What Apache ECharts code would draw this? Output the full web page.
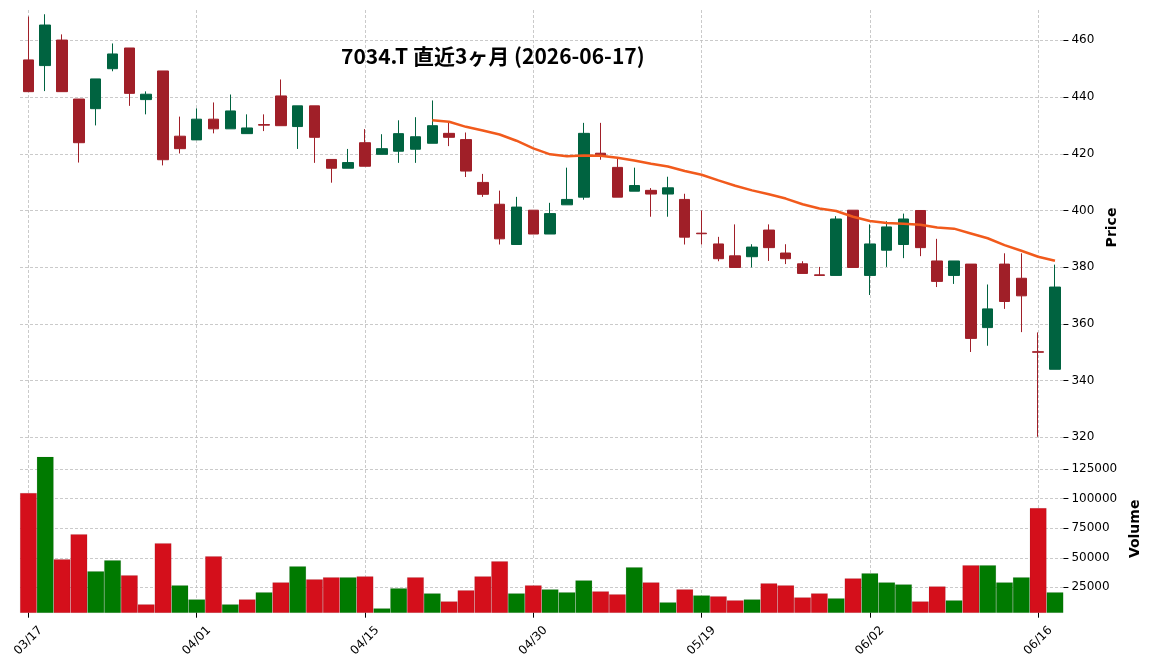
<!DOCTYPE html>
<html>
<head>
<meta charset="utf-8">
<title>7034.T</title>
<script src="https://cdn.jsdelivr.net/npm/echarts@6.0.0/dist/echarts.min.js"></script>
<style>
  html, body { margin: 0; padding: 0; background: #fff; }
  #chart { width: 1152px; height: 670px; }
</style>
</head>
<body>
<div id="chart"></div>
<script>
// 日付 (営業日)
var dates = [
  '03/17', '03/18', '03/19', '03/23', '03/24', '03/25', '03/26', '03/27', '03/30', '03/31',
  '04/01', '04/02', '04/03', '04/06', '04/07', '04/08', '04/09', '04/10', '04/13', '04/14',
  '04/15', '04/16', '04/17', '04/20', '04/21', '04/22', '04/23', '04/24', '04/27', '04/28',
  '04/30', '05/01', '05/07', '05/08', '05/11', '05/12', '05/13', '05/14', '05/15', '05/18',
  '05/19', '05/20', '05/21', '05/22', '05/25', '05/26', '05/27', '05/28', '05/29', '06/01',
  '06/02', '06/03', '06/04', '06/05', '06/08', '06/09', '06/10', '06/11', '06/12', '06/15',
  '06/16', '06/17'
]

var opens = [
  453.1, 451.1, 460.1, 439.3, 435.9, 450.0, 457.3, 439.1, 449.2, 426.2,
  424.9, 432.2, 428.8, 427.1, 430.3, 440.4, 429.6, 436.9, 418.0, 414.9,
  423.9, 419.8, 420.9, 421.6, 423.7, 427.2, 425.0, 409.9, 402.2, 388.0,
  400.1, 391.7, 402.0, 404.7, 420.2, 415.2, 406.8, 407.1, 405.8, 403.9,
  392.0, 388.2, 384.0, 383.7, 393.1, 385.0, 381.2, 377.3, 377.1, 400.1,
  377.1, 386.0, 388.0, 400.0, 382.2, 377.1, 381.1, 358.7, 381.1, 376.1,
  350.2, 344.0
]

var closes = [
  441.9, 465.4, 441.9, 423.9, 446.4, 455.2, 441.3, 441.0, 417.9, 421.8,
  432.2, 428.8, 435.1, 429.1, 430.1, 429.9, 436.9, 425.8, 414.9, 416.9,
  415.6, 421.8, 427.1, 426.0, 429.9, 425.8, 413.9, 405.7, 390.0, 401.2,
  391.7, 398.9, 403.9, 427.2, 419.3, 404.7, 408.8, 405.8, 408.0, 390.6,
  391.8, 383.0, 379.9, 387.1, 386.9, 383.0, 377.8, 377.1, 397.0, 379.9,
  388.2, 394.2, 397.0, 386.9, 375.0, 382.2, 354.9, 365.3, 367.9, 369.9,
  350.0, 373.0
]

var lows = [
  441.9, 442.1, 441.9, 416.9, 430.0, 449.1, 436.9, 433.9, 415.9, 420.1,
  424.9, 427.2, 428.8, 427.1, 428.0, 429.9, 421.7, 416.8, 409.8, 414.9,
  415.6, 419.8, 416.8, 416.8, 423.7, 422.7, 411.8, 404.8, 388.0, 388.0,
  391.7, 391.7, 402.0, 403.8, 417.9, 404.7, 406.8, 397.8, 397.8, 388.0,
  388.0, 382.1, 379.9, 379.9, 382.2, 381.1, 377.8, 377.1, 377.1, 379.9,
  370.2, 380.1, 383.2, 383.9, 373.0, 374.1, 350.1, 352.3, 365.3, 357.1,
  320.2, 344.0
]

var highs = [
  468.4, 469.2, 462.1, 439.3, 446.4, 458.9, 457.3, 442.0, 449.2, 433.1,
  436.0, 438.1, 440.9, 433.9, 433.9, 446.2, 436.9, 436.9, 418.0, 421.7,
  428.7, 426.9, 431.8, 432.9, 438.8, 431.0, 427.5, 412.9, 407.0, 404.8,
  400.1, 402.7, 415.1, 430.9, 430.9, 418.8, 415.1, 407.9, 411.9, 405.9,
  400.0, 390.7, 395.1, 388.1, 395.1, 388.1, 382.1, 380.1, 398.0, 400.1,
  395.1, 396.2, 398.9, 400.0, 390.0, 382.2, 381.1, 373.9, 384.9, 384.9,
  357.0, 380.9
]

var volumes = [
  104900, 135500, 48800, 70000, 38600, 47900, 35200, 10600, 62400, 26700,
  14800, 51300, 10600, 14800, 20800, 29200, 42800, 31800, 33500, 33500,
  34300, 7200, 24200, 33500, 19900, 13100, 22500, 34300, 47100, 19900,
  26700, 23300, 20800, 30900, 21600, 19100, 42000, 29200, 12300, 23300,
  18200, 17400, 14000, 14800, 28400, 26700, 16500, 19900, 15700, 32600,
  36900, 29200, 27500, 13100, 25800, 14000, 43700, 43700, 29200, 33500,
  92100, 20800
]

// 25日移動平均 (チャートから読み取り)
var ma25 = [
  null, null, null, null, null, null, null, null, null, null,
  null, null, null, null, null, null, null, null, null, null,
  null, null, null, null, 431.8, 431.3, 429.5, 428.2, 426.8, 424.6,
  421.9, 419.8, 419.1, 419.4, 419.3, 418.6, 417.6, 416.5, 415.5, 413.9,
  412.6, 410.6, 408.7, 407.1, 405.7, 404.2, 402.2, 400.7, 399.8, 397.8,
  396.3, 395.6, 395.3, 395.0, 394.0, 393.6, 391.9, 390.2, 387.8, 385.8,
  383.7, 382.3
]

var priceTicks = [320, 340, 360, 380, 400, 420, 440, 460]
var volumeTicks = [25000, 50000, 75000, 100000, 125000]

var upColor = '#006340'
var downColor = '#a01f28'
var volUp = '#007a00'
var volDown = '#d40f1b'
var gridLine = { color: '#bdbdbd', width: 0.8, type: [3, 2] }
var font = 'DejaVu Sans'

function everyTen (i) {
  return i % 10 === 0
}

var candles = dates.map(function (d, i) {
  return [opens[i], closes[i], lows[i], highs[i]]
})

// 出来高の色は前日終値との比較
var volumeData = volumes.map(function (v, i) {
  var up = i === 0 ? closes[i] >= opens[i] : closes[i] >= closes[i - 1]
  return { value: v, itemStyle: { color: up ? volUp : volDown } }
})

var myChart = echarts.init(document.getElementById('chart'), null, { renderer: 'canvas' })
myChart.setOption({
  animation: false,
  backgroundColor: '#fff',
  title: {
    text: '7034.T 直近3ヶ月 (2026-06-17)',
    left: 336,
    top: 41,
    textStyle: {
      fontFamily: 'Noto Sans CJK JP',
      fontWeight: 'bold',
      fontSize: 21,
      color: '#000'
    }
  },
  grid: [
    { left: 20, width: 1043.4, top: 10, height: 435 },
    { left: 20, width: 1043.4, top: 445, height: 167.7 }
  ],
  xAxis: [
    {
      type: 'category',
      gridIndex: 0,
      data: dates,
      boundaryGap: true,
      axisLine: { show: false },
      axisTick: { show: false },
      axisLabel: { show: false },
      splitLine: { show: true, interval: everyTen, alignWithLabel: true, lineStyle: gridLine }
    },
    {
      type: 'category',
      gridIndex: 1,
      data: dates,
      boundaryGap: true,
      axisLine: { show: false },
      axisTick: { show: true, interval: everyTen, alignWithLabel: true, length: 5, lineStyle: { color: '#000', width: 1 } },
      axisLabel: {
        interval: everyTen,
        rotate: 45,
        align: 'center',
        verticalAlign: 'middle',
        margin: 28,
        fontFamily: font,
        fontSize: 12,
        color: '#000'
      },
      splitLine: { show: true, interval: everyTen, alignWithLabel: true, lineStyle: gridLine }
    }
  ],
  yAxis: [
    {
      type: 'value',
      gridIndex: 0,
      position: 'right',
      min: 317.3,
      max: 470.7,
      name: 'Price',
      nameLocation: 'middle',
      nameRotate: 90,
      nameGap: 40,
      nameTextStyle: { fontFamily: font, fontWeight: 'bold', fontSize: 14, color: '#000' },
      axisLine: { show: false },
      axisTick: { show: true, customValues: priceTicks, length: 5, lineStyle: { color: '#000' } },
      axisLabel: { customValues: priceTicks, margin: 8, fontFamily: font, fontSize: 12, color: '#000' },
      splitLine: { show: true, lineStyle: gridLine }
    },
    {
      type: 'value',
      gridIndex: 1,
      position: 'right',
      min: 3500,
      max: 145500,
      name: 'Volume',
      nameLocation: 'middle',
      nameRotate: 90,
      nameGap: 56,
      nameTextStyle: { fontFamily: font, fontWeight: 'bold', fontSize: 14, color: '#000' },
      axisLine: { show: false },
      axisTick: { show: true, customValues: volumeTicks, length: 5, lineStyle: { color: '#000' } },
      axisLabel: {
        customValues: volumeTicks,
        margin: 8,
        fontFamily: font,
        fontSize: 12,
        color: '#000',
        formatter: function (v) { return String(v) }
      },
      splitLine: { show: true, lineStyle: gridLine }
    }
  ],
  series: [
    {
      name: '7034.T',
      type: 'candlestick',
      xAxisIndex: 0,
      yAxisIndex: 0,
      barWidth: 11,
      data: candles,
      itemStyle: {
        color: upColor,
        color0: downColor,
        borderColor: upColor,
        borderColor0: downColor,
        borderWidth: 1
      }
    },
    {
      name: 'MA25',
      type: 'line',
      xAxisIndex: 0,
      yAxisIndex: 0,
      data: ma25,
      symbol: 'none',
      smooth: false,
      lineStyle: { color: '#f15a1c', width: 2.5 },
      z: 3
    },
    {
      name: 'Volume',
      type: 'bar',
      xAxisIndex: 1,
      yAxisIndex: 1,
      data: volumeData,
      barCategoryGap: '0%',
      itemStyle: { borderColor: 'rgba(0,0,0,0.15)', borderWidth: 0.5 }
    }
  ]
})
</script>
</body>
</html>
